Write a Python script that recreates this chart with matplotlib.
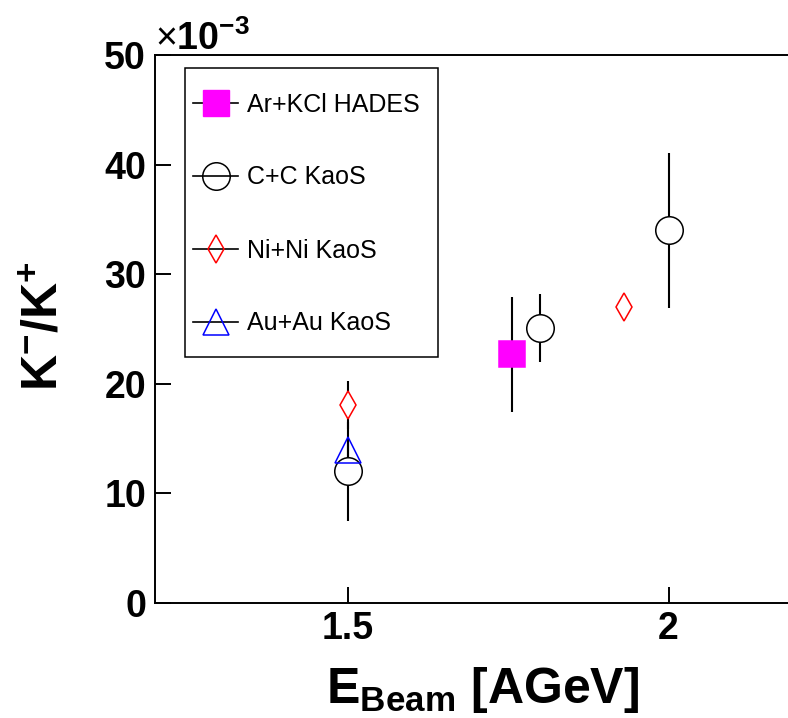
import matplotlib
matplotlib.use("Agg")
import matplotlib.pyplot as plt
from matplotlib.lines import Line2D
from matplotlib.patches import Rectangle

# ---- data (K-/K+ in units of 1e-3) ----
hades_x = [1.756]
hades_y = [22.7]
hades_err = [5.25]

cc_x = [1.5, 1.8, 2.0]
cc_y = [12.0, 25.1, 34.0]
cc_err = [4.5, 3.1, 7.1]

nini_x = [1.5, 1.93]
nini_y = [18.1, 27.0]
nini_err = [2.2, 1.0]

auau_x = [1.5]
auau_y = [14.0]
auau_err = [1.0]

x_ticks = [1.5, 2.0]
x_ticklabels = ["1.5", "2"]
y_ticks = [0, 10, 20, 30, 40, 50]
legend_labels = ["Ar+KCl HADES", "C+C KaoS", "Ni+Ni KaoS", "Au+Au KaoS"]

plt.rcParams['font.family'] = ['Liberation Sans', 'DejaVu Sans']
plt.rcParams['mathtext.fontset'] = 'custom'
plt.rcParams['mathtext.rm'] = 'Liberation Sans'
plt.rcParams['mathtext.bf'] = 'Liberation Sans:bold'
plt.rcParams['mathtext.it'] = 'Liberation Sans:italic'

W, H = 788, 718
fig = plt.figure(figsize=(W / 100, H / 100), dpi=100)
ax = fig.add_axes([155 / W, 115 / H, 642 / W, 548 / H])

ax.set_xlim(1.2, 2.2)
ax.set_ylim(0, 50)

elw = 1.5
# error bars
for xs, ys, es in [(cc_x, cc_y, cc_err), (nini_x, nini_y, nini_err),
                   (auau_x, auau_y, auau_err), (hades_x, hades_y, hades_err)]:
    ax.errorbar(xs, ys, yerr=es, fmt='none', ecolor='black', elinewidth=elw,
                capsize=0, zorder=2, clip_on=False)

mew = 1.1
ax.plot(cc_x, cc_y, linestyle='none', marker='o', ms=19.8, mfc='white',
        mec='black', mew=mew, zorder=3)
ax.plot(nini_x, nini_y, linestyle='none', marker='d', ms=14.0, mfc='white',
        mec='red', mew=mew, zorder=4)
ax.plot(auau_x, auau_y, linestyle='none', marker='^', ms=19.0, mfc='none',
        mec='blue', mew=mew, zorder=5)
ax.plot(hades_x, hades_y, linestyle='none', marker='s', ms=18.7, mfc='#ff00ff',
        mec='#ff00ff', mew=mew, zorder=6)

# axes styling
for s in ax.spines.values():
    s.set_linewidth(1.4)
ax.set_xticks(x_ticks)
ax.set_xticklabels(x_ticklabels)
ax.set_yticks(y_ticks)
ax.tick_params(axis='both', direction='in', length=11.5, width=1.4,
               labelsize=27, top=False, right=False)
ax.tick_params(axis='y', pad=6.5)
ax.tick_params(axis='x', pad=5.8)
for lab in ax.get_xticklabels() + ax.get_yticklabels():
    lab.set_fontweight('bold')

ax.set_xlabel(r"$\mathbf{E_{Beam}}$ $\mathbf{[AGeV]}$", fontsize=36, va='center')
ax.xaxis.set_label_coords((483 - 155) / 642, -(690 - 603) / 548)
ax.set_ylabel(r"$\mathbf{K^{-}/K^{+}}$", fontsize=36, va='center')
ax.yaxis.set_label_coords((45 - 155) / 642, (603 - 326) / 548)

fig.text(155 / W, 1 - 50 / H, r"$\times\mathbf{10^{-3}}$", fontsize=27,
         ha='left', va='baseline')

# legend
handles = [
    Line2D([], [], color='black', lw=1.2, marker='s', ms=18.7, mfc='#ff00ff', mec='#ff00ff'),
    Line2D([], [], color='black', lw=1.2, marker='o', ms=19.8, mfc='none', mec='black', mew=mew),
    Line2D([], [], color='black', lw=1.2, marker='d', ms=14.0, mfc='none', mec='red', mew=mew),
    Line2D([], [], color='black', lw=1.2, marker='^', ms=19.0, mfc='none', mec='blue', mew=mew),
]
leg = ax.legend(handles, legend_labels, loc='upper left',
                bbox_to_anchor=(193 / W, 1 - 92.5 / H),
                bbox_transform=fig.transFigure, frameon=False, fontsize=18,
                borderpad=0, borderaxespad=0, handlelength=1.8,
                handletextpad=0.36, labelspacing=1.96)
leg.set_zorder(10)
frame = Rectangle((185 / W, 1 - 357 / H), 253 / W, 289 / H, fill=False,
                  lw=1.1, edgecolor='black', transform=fig.transFigure,
                  zorder=9)
fig.patches.append(frame)

fig.savefig("out.png", dpi=100)
